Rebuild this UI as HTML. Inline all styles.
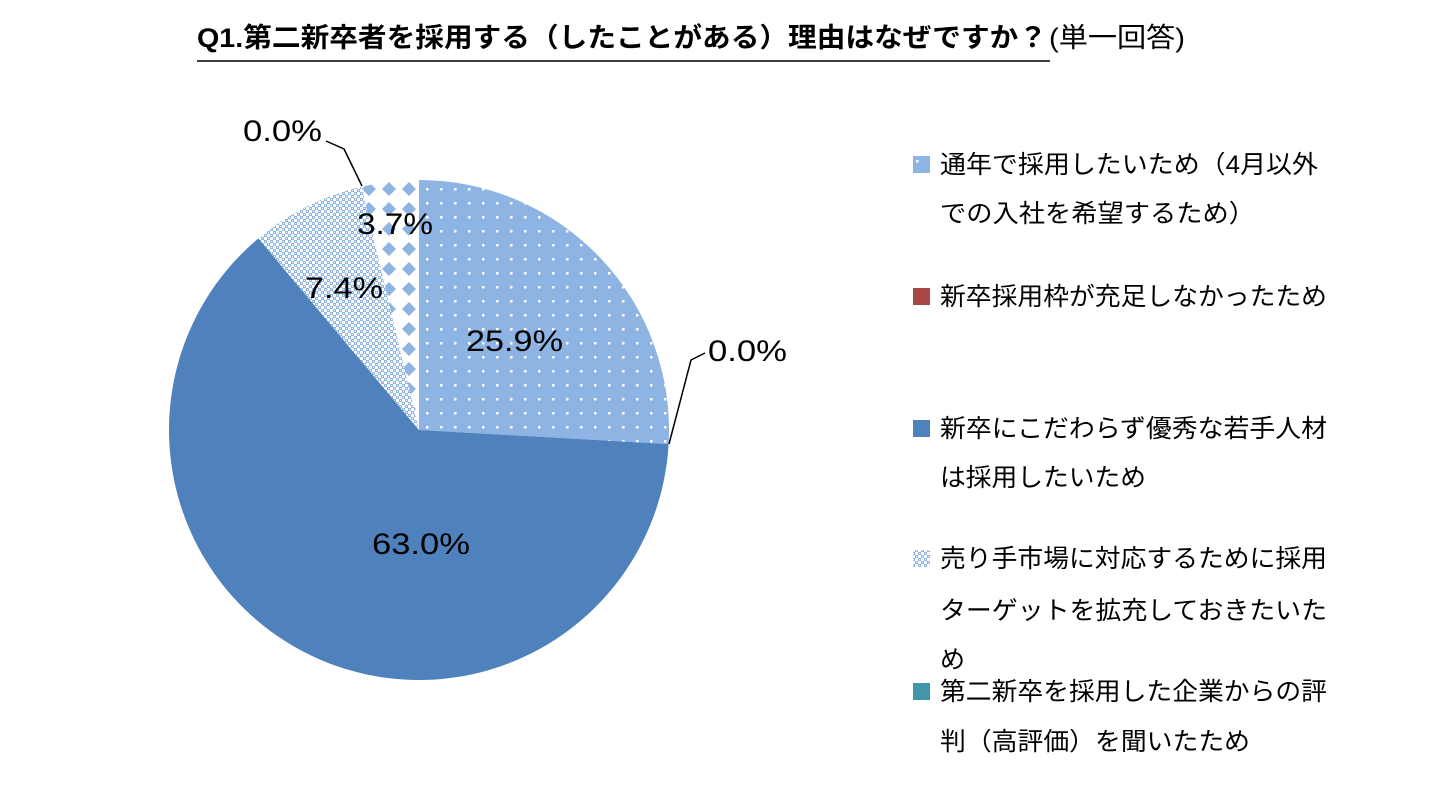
<!DOCTYPE html>
<html><head><meta charset="utf-8"><style>
body{margin:0;background:#fff;}
svg{display:block;font-family:"Liberation Sans","Noto Sans CJK JP",sans-serif;}
</style></head><body>
<svg width="1440" height="789" viewBox="0 0 1440 789">
<defs>
<pattern id="dots" width="14" height="14" patternUnits="userSpaceOnUse">
<rect width="14" height="14" fill="#8EB4E3"/><rect x="6" y="6" width="2.5" height="2.5" fill="#fff"/></pattern>
<pattern id="cross" width="6" height="6" patternUnits="userSpaceOnUse">
<rect width="6" height="6" fill="#fff"/><path d="M0 0H3V3H0zM3 3H6V6H3z" fill="#8EB4E3"/><path d="M1 1h1v1H1zM4 4h1v1H4z" fill="#fff"/></pattern>
<pattern id="diam" width="20" height="20" patternUnits="userSpaceOnUse" x="419" y="180">
<rect width="20" height="20" fill="#fff"/><path d="M10 2L17 9L10 16L3 9z" fill="#8EB4E3"/></pattern>
</defs>
<text x="197" y="47" font-size="27" font-weight="bold" fill="#000" textLength="850" lengthAdjust="spacingAndGlyphs">Q1.第二新卒者を採用する（したことがある）理由はなぜですか？</text>
<text x="1049" y="47" font-size="27" fill="#000" textLength="136" lengthAdjust="spacingAndGlyphs">(単一回答)</text>
<line x1="197" y1="61" x2="1050" y2="61" stroke="#000" stroke-width="1.5"/>
<path d="M419 430L419 180A250 250 0 0 1 668.6 444.1Z" fill="url(#dots)"/>
<path d="M419 430L668.6 444.1A250 250 0 1 1 258.4 238.4Z" fill="#4F81BD"/>
<path d="M419 430L258.4 238.4A250 250 0 0 1 361.4 186.7Z" fill="url(#cross)"/>
<path d="M419 430L361.4 186.7A250 250 0 0 1 419 180Z" fill="url(#diam)"/>
<g font-size="30" fill="#000" lengthAdjust="spacingAndGlyphs">
<text x="466" y="351" textLength="97" lengthAdjust="spacingAndGlyphs">25.9%</text>
<text x="372" y="554" textLength="98" lengthAdjust="spacingAndGlyphs">63.0%</text>
<text x="305" y="298" textLength="78" lengthAdjust="spacingAndGlyphs">7.4%</text>
<text x="357" y="234" textLength="76" lengthAdjust="spacingAndGlyphs">3.7%</text>
<text x="243" y="141" textLength="79" lengthAdjust="spacingAndGlyphs">0.0%</text>
<text x="708" y="361" textLength="79" lengthAdjust="spacingAndGlyphs">0.0%</text>
</g>
<polyline points="326,141 344,149 362,186" fill="none" stroke="#000" stroke-width="1.5"/>
<polyline points="705,353 691,360 669,444" fill="none" stroke="#000" stroke-width="1.5"/>
<g font-size="25" fill="#000">
<rect x="913" y="156" width="17" height="17" fill="url(#dots)"/>
<text x="940" y="173" textLength="378" lengthAdjust="spacingAndGlyphs">通年で採用したいため（4月以外</text>
<text x="940" y="222" textLength="315" lengthAdjust="spacingAndGlyphs">での入社を希望するため）</text>
<rect x="913" y="288" width="17" height="17" fill="#A94744"/>
<text x="940" y="305" textLength="387" lengthAdjust="spacingAndGlyphs">新卒採用枠が充足しなかったため</text>
<rect x="913" y="420" width="17" height="17" fill="#4F81BD"/>
<text x="940" y="437" textLength="387" lengthAdjust="spacingAndGlyphs">新卒にこだわらず優秀な若手人材</text>
<text x="940" y="486" textLength="206" lengthAdjust="spacingAndGlyphs">は採用したいため</text>
<rect x="913" y="550" width="17" height="17" fill="url(#cross)"/>
<text x="940" y="567" textLength="387" lengthAdjust="spacingAndGlyphs">売り手市場に対応するために採用</text>
<text x="940" y="619" textLength="387" lengthAdjust="spacingAndGlyphs">ターゲットを拡充しておきたいた</text>
<text x="940" y="668">め</text>
<rect x="913" y="683" width="17" height="17" fill="#4197A8"/>
<text x="940" y="700" textLength="387" lengthAdjust="spacingAndGlyphs">第二新卒を採用した企業からの評</text>
<text x="940" y="750" textLength="310" lengthAdjust="spacingAndGlyphs">判（高評価）を聞いたため</text>
</g>
</svg>
</body></html>
